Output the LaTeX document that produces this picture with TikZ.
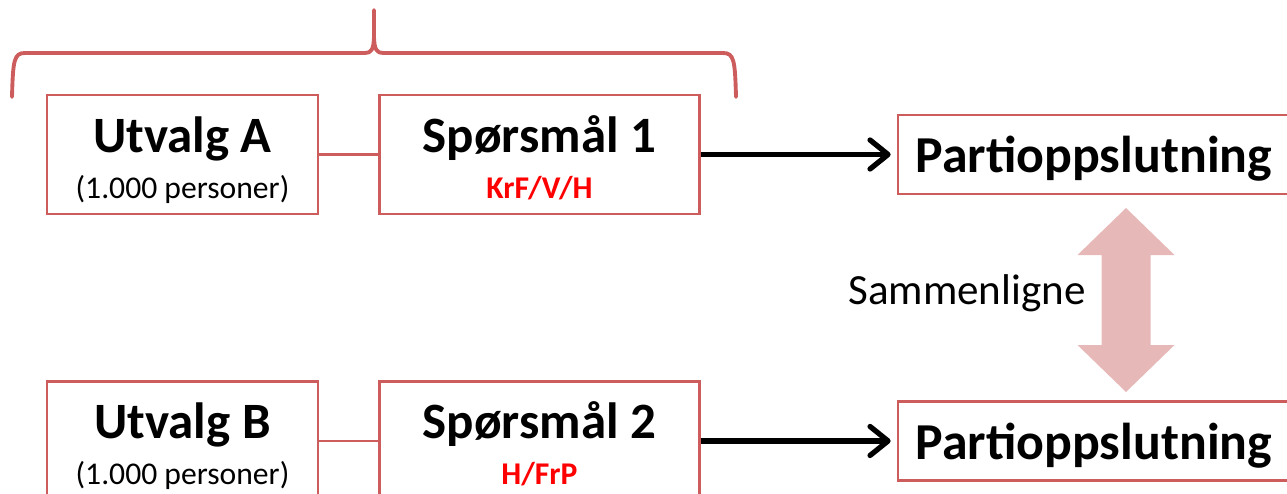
\documentclass[tikz,border=0pt]{standalone}
\usepackage{fontspec}
\setmainfont{Carlito}
\usetikzlibrary{arrows.meta,positioning}
\definecolor{boxred}{RGB}{205,92,92}
\definecolor{cmppink}{RGB}{230,185,184}

\begin{document}
\begin{tikzpicture}[
    node distance=1.18cm,
    box/.style={rectangle, draw=boxred, line width=1.4pt, minimum width=5.42cm, minimum height=2.38cm, inner sep=0pt},
    question/.style={box, minimum width=6.4cm},
    result/.style={box, minimum width=7.84cm, minimum height=1.58cm, text depth=0pt, font=\fontsize{29.5}{35}\selectfont\bfseries},
    title/.style={anchor=base, font=\fontsize{29}{35}\selectfont\bfseries},
    sub/.style={anchor=base, font=\fontsize{18}{22}\selectfont},
    party/.style={anchor=base, text=red, font=\fontsize{18}{22}\selectfont\bfseries},
    link/.style={draw=boxred, line width=1.2pt},
    arrow/.style={-{Straight Barb[length=3.6mm,width=5.8mm,round]}, line width=3pt, shorten >=0.12cm},
    groupbrace/.style={draw=boxred, line width=2.2pt, line cap=round, line join=round}
]
    \useasboundingbox (0,0) rectangle (25.74,-9.86);

    % Nodes
    \node[box] (utvA) at (3.65,-3.09) {};
    \node[question, right=of utvA] (spmA) {};
    \node[result, right=3.92cm of spmA] (partA) {Partioppslutning};
    \node[box, below=3.3cm of utvA] (utvB) {};
    \node[question, right=of utvB] (spmB) {};
    \node[result, right=3.92cm of spmB] (partB) {Partioppslutning};

    % Texts in the boxes
    \node[title] (utvAtitle) at ([yshift=0.05cm]utvA.center) {Utvalg A};
    \node[sub] (utvAsize) at ([yshift=-0.87cm]utvA.center) {(1.000 personer)};
    \node[title] (spmAtitle) at ([yshift=0.05cm]spmA.center) {Spørsmål 1};
    \node[party] (spmAparty) at ([yshift=-0.87cm]spmA.center) {KrF/V/H};
    \node[title] (utvBtitle) at ([yshift=0.05cm]utvB.center) {Utvalg B};
    \node[sub] (utvBsize) at ([yshift=-0.87cm]utvB.center) {(1.000 personer)};
    \node[title] (spmBtitle) at ([yshift=0.05cm]spmB.center) {Spørsmål 2};
    \node[party] (spmBparty) at ([yshift=-0.87cm]spmB.center) {H/FrP};

    % Compare
    \coordinate (cmp) at (22.52,-6.0);
    \fill[cmppink] (cmp) ++(0,1.84) -- ++(0.97,-0.94) -- ++(-0.48,0) -- ++(0,-1.8) -- ++(0.48,0)
        -- ++(-0.97,-0.94) -- ++(-0.97,0.94) -- ++(0.48,0) -- ++(0,1.8) -- ++(-0.48,0) -- cycle;
    \node[font=\fontsize{24.5}{29}\selectfont] (cmptext) at (19.34,-5.86) {Sammenligne};

    % Arrows
    \draw[link] (utvA) -- (spmA);
    \draw[link] (utvB) -- (spmB);
    \draw[arrow] (spmA) -- (partA);
    \draw[arrow] (spmB) -- (partB);

    % Brace
    \draw[groupbrace] (0.24,-1.94) .. controls (0.26,-1.2) and (0.28,-1.06) .. (0.5,-1.06)
        -- (7.3,-1.06) .. controls (7.42,-1.06) and (7.48,-1.0) .. (7.48,-0.7) -- (7.48,-0.2)
        -- (7.48,-0.7) .. controls (7.48,-1.0) and (7.54,-1.06) .. (7.66,-1.06)
        -- (14.46,-1.06) .. controls (14.68,-1.06) and (14.7,-1.2) .. (14.72,-1.94);
\end{tikzpicture}
\end{document}
